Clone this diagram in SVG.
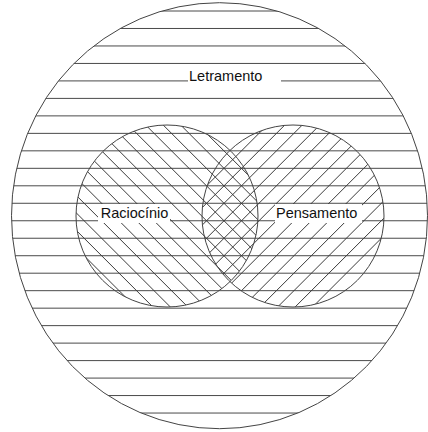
<svg xmlns="http://www.w3.org/2000/svg" width="428" height="432" viewBox="0 0 428 432">
  <style>
    .hatch { stroke: #3a3a3a; stroke-width: 1; fill: none; }
    .hline { stroke: #4a4a4a; stroke-width: 1; fill: none; }
    .outline { stroke: #444; stroke-width: 1; fill: none; }
    .mask { fill: #fff; stroke: none; }
    .label { font-family: "Liberation Sans", Arial, sans-serif; font-size: 14.5px; fill: #111; }
  </style>
  <defs>
    <clipPath id="clipBig"><ellipse cx="219.5" cy="215.7" rx="208" ry="213"/></clipPath>
    <clipPath id="clipLeft"><circle cx="167" cy="216" r="91"/></clipPath>
    <clipPath id="clipRight"><circle cx="293" cy="216" r="91"/></clipPath>
  </defs>
  <rect width="428" height="432" fill="#fff"/>

  <g id="letramento">
    <path class="hline" clip-path="url(#clipBig)" d="M0,11H428M0,28.48H428M0,45.96H428M0,63.44H428M0,80.92H428M0,98.4H428M0,115.88H428M0,133.36H428M0,150.84H428M0,168.32H428M0,185.8H428M0,203.28H428M0,220.76H428M0,238.24H428M0,255.72H428M0,273.2H428M0,290.68H428M0,308.16H428M0,325.64H428M0,343.12H428M0,360.6H428M0,378.08H428M0,395.56H428M0,413.04H428"/>
    <ellipse class="outline" cx="219.5" cy="215.7" rx="208" ry="213"/>
  </g>

  <g id="raciocinio">
    <path class="hatch" clip-path="url(#clipLeft)" d="M-51.58,120L140.42,312M-34.1,120L157.9,312M-16.62,120L175.38,312M0.86,120L192.86,312M18.34,120L210.34,312M35.82,120L227.82,312M53.3,120L245.3,312M70.78,120L262.78,312M88.26,120L280.26,312M105.74,120L297.74,312M123.22,120L315.22,312M140.7,120L332.7,312M158.18,120L350.18,312M175.66,120L367.66,312M193.14,120L385.14,312"/>
  </g>

  <g id="pensamento">
    <path class="hatch" clip-path="url(#clipRight)" d="M272.34,120L80.34,312M289.82,120L97.82,312M307.3,120L115.3,312M324.78,120L132.78,312M342.26,120L150.26,312M359.74,120L167.74,312M377.22,120L185.22,312M394.7,120L202.7,312M412.18,120L220.18,312M429.66,120L237.66,312M447.14,120L255.14,312M464.62,120L272.62,312M482.1,120L290.1,312M499.58,120L307.58,312"/>
  </g>

  <g id="outlines">
    <circle class="outline" cx="167" cy="216" r="91"/>
    <circle class="outline" cx="293" cy="216" r="91"/>
  </g>

  <g id="labels">
    <rect class="mask" x="188" y="66" width="93" height="18"/>
    <text class="label" x="189" y="81">Letramento</text>
    <rect class="mask" x="98" y="204" width="72" height="19"/>
    <text class="label" x="100.7" y="217.5">Raciocínio</text>
    <rect class="mask" x="275" y="204" width="87" height="19"/>
    <text class="label" x="276" y="217.5">Pensamento</text>
  </g>
</svg>
